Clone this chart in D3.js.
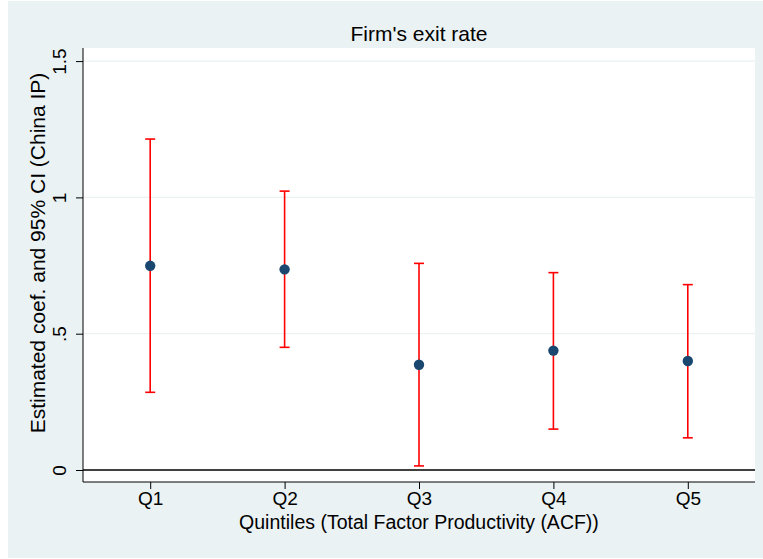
<!DOCTYPE html>
<html><head><meta charset="utf-8">
<script src="https://cdn.jsdelivr.net/npm/d3@7"></script>
<style>body{margin:0;background:#fff;} text{font-family:"Liberation Sans",Arial,sans-serif;}</style>
</head><body>
<svg id="c" width="763" height="559"></svg>
<script>
const categories = ["Q1","Q2","Q3","Q4","Q5"];
const estimates = [0.749, 0.736, 0.386, 0.438, 0.400];
const ciLower = [0.285, 0.450, 0.015, 0.150, 0.118];
const ciUpper = [1.214, 1.023, 0.758, 0.724, 0.680];
const yTicks = [0, 0.5, 1, 1.5];
const yTickLabels = ["0", ".5", "1", "1.5"];
const title = "Firm's exit rate";
const xTitle = "Quintiles (Total Factor Productivity (ACF))";
const yTitle = "Estimated coef. and 95% CI (China IP)";

const svg = d3.select("#c");
const W = 763, H = 559;
const pl = 83, pr = 755, pt = 48, pb = 482;

svg.append("rect").attr("x",8).attr("y",1).attr("width",W-8).attr("height",557).attr("fill","#eaf2f3");
svg.append("rect").attr("x",pl).attr("y",pt).attr("width",pr-pl).attr("height",pb-pt).attr("fill","#fff");

const x = d3.scaleLinear().domain([0.5,5.5]).range([pl,pr]);
const y = d3.scaleLinear().domain([-0.044,1.548]).range([pb,pt]);

// gridlines
svg.append("g").selectAll("line").data(yTicks.filter(d=>d>0)).join("line")
  .attr("x1",pl).attr("x2",pr).attr("y1",d=>y(d)).attr("y2",d=>y(d))
  .attr("stroke","#eaf2f3").attr("stroke-width",1.2);

// zero line
svg.append("line").attr("x1",pl).attr("x2",pr).attr("y1",y(0)).attr("y2",y(0))
  .attr("stroke","#000").attr("stroke-width",1.4);

// y axis
const yAxis = d3.axisLeft(y).tickValues(yTicks).tickFormat((d,i)=>yTickLabels[i]).tickSize(7).tickSizeOuter(0).tickPadding(5);
const gy = svg.append("g").attr("transform",`translate(${pl},0)`).call(yAxis);
gy.select(".domain").attr("d",`M0,${pt}V${pb}`).attr("stroke","#000");
gy.selectAll(".tick line").attr("stroke","#000");
gy.selectAll(".tick text").attr("font-size",19).attr("fill","#000")
  .attr("text-anchor","middle").attr("dy",0)
  .attr("transform",d=>`translate(-24,0) rotate(-90)`).attr("x",0).attr("y",0)
  .attr("dominant-baseline","central");

// x axis
const xAxis = d3.axisBottom(x).tickValues([1,2,3,4,5]).tickFormat((d,i)=>categories[i]).tickSize(7).tickSizeOuter(0).tickPadding(3);
const gx = svg.append("g").attr("transform",`translate(0,${pb})`).call(xAxis);
gx.select(".domain").attr("d",`M${pl},0H${pr}`).attr("stroke","#000");
gx.selectAll(".tick line").attr("stroke","#000");
gx.selectAll(".tick text").attr("font-size",19).attr("fill","#000");

// error bars
const idx = d3.range(categories.length);
const eb = svg.append("g").attr("stroke","#ff0000").attr("stroke-width",1.6);
eb.selectAll("line.v").data(idx).join("line").attr("class","v")
  .attr("x1",i=>x(i+1)).attr("x2",i=>x(i+1)).attr("y1",i=>y(ciLower[i])).attr("y2",i=>y(ciUpper[i]));
eb.selectAll("line.u").data(idx).join("line").attr("class","u")
  .attr("x1",i=>x(i+1)-5).attr("x2",i=>x(i+1)+5).attr("y1",i=>y(ciUpper[i])).attr("y2",i=>y(ciUpper[i]));
eb.selectAll("line.l").data(idx).join("line").attr("class","l")
  .attr("x1",i=>x(i+1)-5).attr("x2",i=>x(i+1)+5).attr("y1",i=>y(ciLower[i])).attr("y2",i=>y(ciLower[i]));

// points
svg.append("g").selectAll("circle").data(idx).join("circle")
  .attr("cx",i=>x(i+1)).attr("cy",i=>y(estimates[i])).attr("r",5.2).attr("fill","#1a476f");

// titles
svg.append("text").attr("x",(pl+pr)/2).attr("y",33).attr("text-anchor","middle")
  .attr("dominant-baseline","central").attr("font-size",21).text(title);
svg.append("text").attr("x",(pl+pr)/2).attr("y",522).attr("text-anchor","middle")
  .attr("dominant-baseline","central").attr("font-size",19.5).text(xTitle);
svg.append("text").attr("transform",`translate(37,253) rotate(-90)`).attr("text-anchor","middle")
  .attr("dominant-baseline","central").attr("font-size",21).text(yTitle);
</script>
</body></html>
